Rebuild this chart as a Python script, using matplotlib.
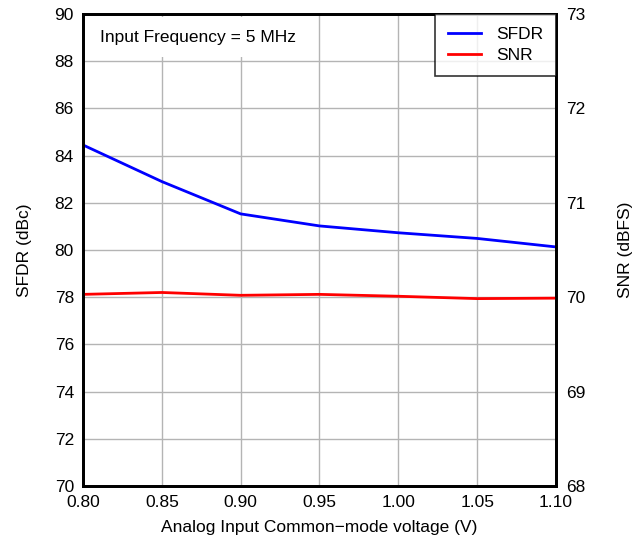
import matplotlib

matplotlib.use("Agg")
import matplotlib.pyplot as plt

plt.rcParams["font.family"] = ["Liberation Sans", "DejaVu Sans"]

# Data
vcm = [0.80, 0.85, 0.90, 0.95, 1.00, 1.05, 1.10]
sfdr = [84.45, 82.9, 81.53, 81.02, 80.73, 80.49, 80.13]
snr = [70.03, 70.05, 70.02, 70.03, 70.01, 69.985, 69.99]

x_ticks = [0.80, 0.85, 0.90, 0.95, 1.00, 1.05, 1.10]
left_ticks = [70, 72, 74, 76, 78, 80, 82, 84, 86, 88, 90]
right_ticks = [68, 69, 70, 71, 72, 73]

FS = 12.5

fig = plt.figure(figsize=(6.34, 5.4), dpi=100)
ax1 = fig.add_axes([83 / 634, 1 - 486 / 540, (556 - 83) / 634, (486 - 14) / 540])
ax2 = ax1.twinx()

ax1.grid(True, color="#b4b4b4", linewidth=1.0)
ax1.set_axisbelow(True)

(l1,) = ax1.plot(vcm, sfdr, color="#0000ff", linewidth=2, label="SFDR")
(l2,) = ax2.plot(vcm, snr, color="#ff0000", linewidth=2, label="SNR")

ax1.set_xlim(0.80, 1.10)
ax1.set_ylim(70, 90)
ax2.set_ylim(68, 73)
ax1.set_xticks(x_ticks)
ax1.set_xticklabels([f"{v:.2f}" for v in x_ticks])
ax1.set_yticks(left_ticks)
ax2.set_yticks(right_ticks)

ax1.tick_params(axis="x", length=0, labelsize=FS, pad=6.5)
ax1.tick_params(axis="y", length=0, labelsize=FS, pad=6.5)
ax2.tick_params(axis="y", length=0, labelsize=FS, pad=7)
for ax in (ax1, ax2):
    for s in ax.spines.values():
        s.set_linewidth(2)
        s.set_color("black")

ax1.set_xlabel("Analog Input Common\u2212mode voltage (V)", fontsize=FS, labelpad=7)
ax1.set_ylabel("SFDR (dBc)", fontsize=FS, labelpad=16)
ax2.set_ylabel("SNR (dBFS)", fontsize=FS, labelpad=24)

ax1.text(
    0.036, 0.951, "Input Frequency = 5 MHz",
    transform=ax1.transAxes, fontsize=FS, va="center", ha="left",
    bbox=dict(facecolor="white", edgecolor="none", pad=9),
    zorder=5,
)

leg = ax2.legend(
    handles=[l1, l2], loc="upper right", fontsize=FS, frameon=True,
    fancybox=False, borderaxespad=0, handlelength=1.9, borderpad=0.75,
    labelspacing=0.32, handletextpad=0.85,
)
leg.get_frame().set_edgecolor("black")
leg.get_frame().set_linewidth(1.2)

fig.savefig("out.png", dpi=100, facecolor="white")
